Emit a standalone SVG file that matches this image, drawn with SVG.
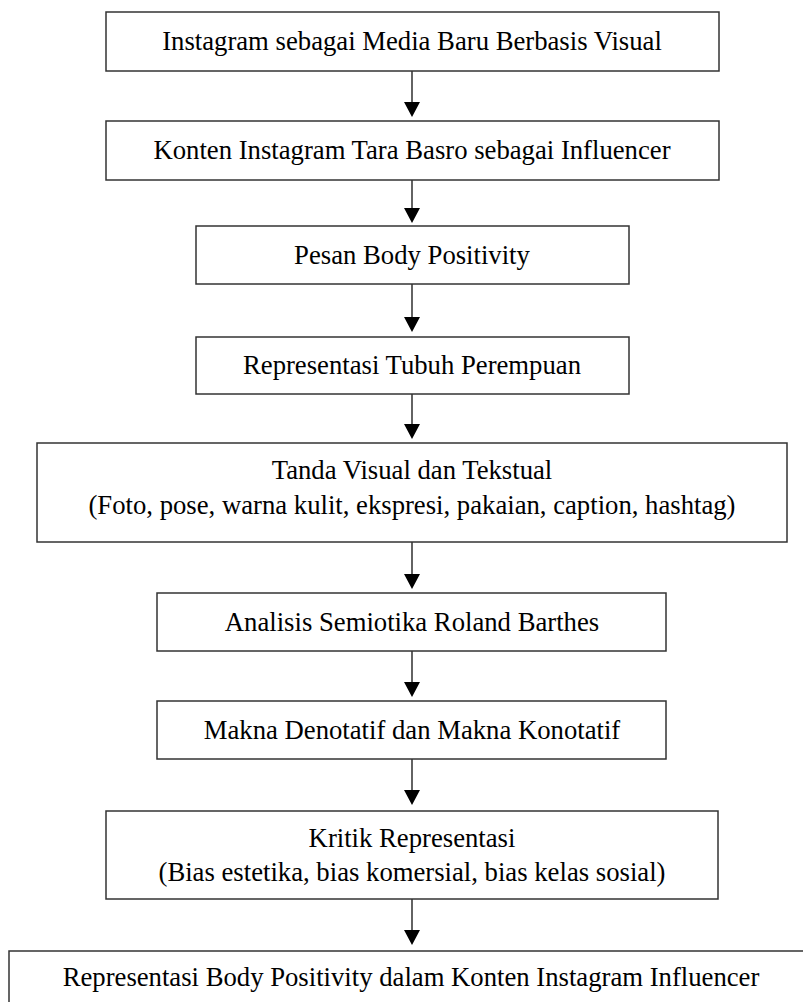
<svg xmlns="http://www.w3.org/2000/svg" width="803" height="1002" viewBox="0 0 803 1002">
<style>
.box{fill:#fff;stroke:#333;stroke-width:1.5}
.t{font-family:"Liberation Serif","Times New Roman",serif;font-size:26.7px;fill:#000;text-anchor:middle}
.ln{stroke:#222;stroke-width:1.4;fill:none}
.ah{fill:#000}
</style>
<rect width="803" height="1002" fill="#fff"/>
<g id="connectors">
<line class="ln" x1="412" y1="71" x2="412" y2="104"/><polygon class="ah" points="404,102 420,102 412,117"/>
<line class="ln" x1="412" y1="180" x2="412" y2="210"/><polygon class="ah" points="404,208 420,208 412,223"/>
<line class="ln" x1="412" y1="284" x2="412" y2="319"/><polygon class="ah" points="404,317 420,317 412,332"/>
<line class="ln" x1="412" y1="394" x2="412" y2="426"/><polygon class="ah" points="404,424 420,424 412,439"/>
<line class="ln" x1="412" y1="542" x2="412" y2="576"/><polygon class="ah" points="404,574 420,574 412,589"/>
<line class="ln" x1="412" y1="651" x2="412" y2="684"/><polygon class="ah" points="404,682 420,682 412,697"/>
<line class="ln" x1="412" y1="759" x2="412" y2="792"/><polygon class="ah" points="404,790 420,790 412,805"/>
<line class="ln" x1="412" y1="899" x2="412" y2="932"/><polygon class="ah" points="404,930 420,930 412,945"/>
</g>
<g id="n1"><rect class="box" x="106" y="12" width="613" height="59"/><text class="t" x="412" y="50">Instagram sebagai Media Baru Berbasis Visual</text></g>
<g id="n2"><rect class="box" x="106" y="121" width="613" height="59"/><text class="t" x="412" y="159">Konten Instagram Tara Basro sebagai Influencer</text></g>
<g id="n3"><rect class="box" x="196" y="226" width="433" height="58"/><text class="t" x="412" y="264">Pesan Body Positivity</text></g>
<g id="n4"><rect class="box" x="196" y="337" width="433" height="57"/><text class="t" x="412" y="374">Representasi Tubuh Perempuan</text></g>
<g id="n5"><rect class="box" x="37" y="443" width="750" height="99"/><text class="t" x="412" y="479">Tanda Visual dan Tekstual</text><text class="t" x="412" y="514">(Foto, pose, warna kulit, ekspresi, pakaian, caption, hashtag)</text></g>
<g id="n6"><rect class="box" x="157" y="593" width="509" height="58"/><text class="t" x="412" y="631">Analisis Semiotika Roland Barthes</text></g>
<g id="n7"><rect class="box" x="157" y="701" width="509" height="58"/><text class="t" x="412" y="739">Makna Denotatif dan Makna Konotatif</text></g>
<g id="n8"><rect class="box" x="106" y="811" width="612" height="88"/><text class="t" x="412" y="847">Kritik Representasi</text><text class="t" x="412" y="881">(Bias estetika, bias komersial, bias kelas sosial)</text></g>
<g id="n9"><rect class="box" x="9" y="951" width="820" height="70"/><text class="t" x="411" y="986">Representasi Body Positivity dalam Konten Instagram Influencer</text></g>
</svg>
